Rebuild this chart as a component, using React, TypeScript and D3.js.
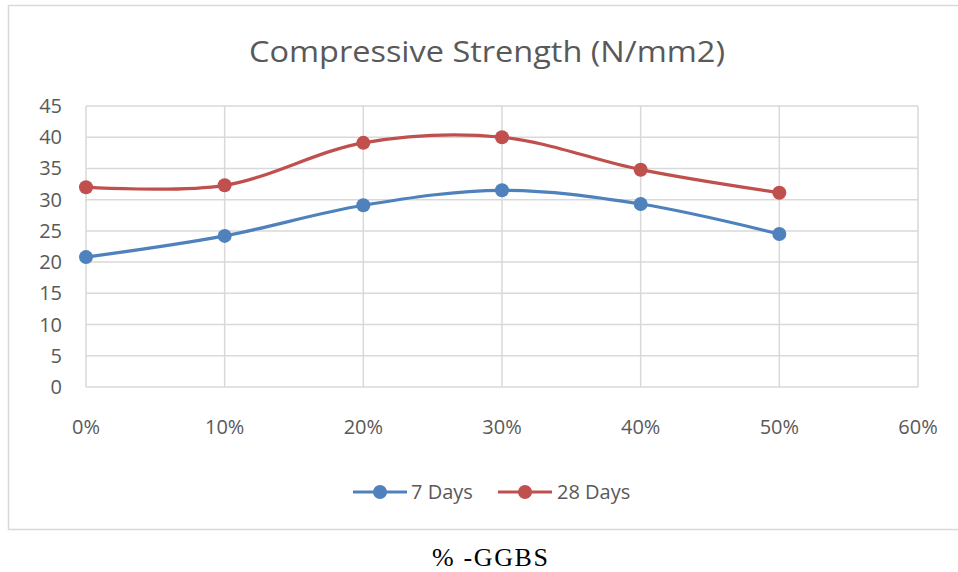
import React from "react";
import * as d3 from "d3";

const categories = [0, 0.1, 0.2, 0.3, 0.4, 0.5];
const xTicks = [0, 0.1, 0.2, 0.3, 0.4, 0.5, 0.6];
const yTicks = [0, 5, 10, 15, 20, 25, 30, 35, 40, 45];
const days7 = [20.8, 24.2, 29.1, 31.5, 29.3, 24.5];
const days28 = [32.0, 32.3, 39.1, 40.0, 34.8, 31.1];
const seriesNames = ["7 Days", "28 Days"];
const colors = ["#4f81bd", "#c0504d"];

export default function App() {
  const W = 958, H = 572;
  const x = d3.scaleLinear().domain([0, 0.6]).range([86, 918]);
  const y = d3.scaleLinear().domain([0, 45]).range([387, 106]);
  const line = d3
    .line<[number, number]>()
    .x((d) => x(d[0]))
    .y((d) => y(d[1]))
    .curve(d3.curveCatmullRom.alpha(0));
  const series = [days7, days28];
  const font = "'Open Sans', sans-serif";
  const legendItems = [
    { x0: 353, tx: 411 },
    { x0: 498, tx: 557 },
  ];
  return (
    <svg
      width={W}
      height={H}
      style={{ position: "absolute", left: 0, top: 0, background: "#fff" }}
    >
      <rect x={8.5} y={5.5} width={960} height={524} fill="#fff" stroke="#d9d9d9" strokeWidth={1.5} />
      <text
        x={487}
        y={62}
        textAnchor="middle"
        fontFamily={font}
        fontSize={29}
        fill="#595959"
        textLength={476}
        lengthAdjust="spacingAndGlyphs"
      >
        Compressive Strength (N/mm2)
      </text>
      {yTicks.map((t) => (
        <line key={"gy" + t} x1={x(0)} x2={x(0.6)} y1={y(t)} y2={y(t)} stroke="#d9d9d9" strokeWidth={1.5} />
      ))}
      {xTicks.map((t) => (
        <line key={"gx" + t} x1={x(t)} x2={x(t)} y1={y(0)} y2={y(45)} stroke="#d9d9d9" strokeWidth={1.5} />
      ))}
      {yTicks.map((t) => (
        <text key={"ty" + t} x={62} y={y(t) + 7} textAnchor="end" fontFamily={font} fontSize={20} fill="#595959">
          {t}
        </text>
      ))}
      {xTicks.map((t) => (
        <text key={"tx" + t} x={x(t)} y={434} textAnchor="middle" fontFamily={font} fontSize={20} fill="#595959">
          {d3.format(".0%")(t)}
        </text>
      ))}
      {series.map((s, i) => {
        const pts = categories.map((c, j) => [c, s[j]] as [number, number]);
        return (
          <g key={"s" + i}>
            <path d={line(pts) || ""} fill="none" stroke={colors[i]} strokeWidth={3.2} strokeLinecap="round" />
            {pts.map((p, j) => (
              <circle key={j} cx={x(p[0])} cy={y(p[1])} r={7} fill={colors[i]} />
            ))}
          </g>
        );
      })}
      {legendItems.map((l, i) => (
        <g key={"l" + i}>
          <line x1={l.x0} x2={l.x0 + 54} y1={492} y2={492} stroke={colors[i]} strokeWidth={3.2} />
          <circle cx={l.x0 + 27} cy={492} r={7} fill={colors[i]} />
          <text x={l.tx} y={499} fontFamily={font} fontSize={20} fill="#595959">
            {seriesNames[i]}
          </text>
        </g>
      ))}
      <text
        x={490}
        y={566}
        textAnchor="middle"
        fontFamily="'Liberation Serif', 'Times New Roman', serif"
        fontSize={26}
        fill="#000"
        textLength={116}
        lengthAdjust="spacing"
      >
        % -GGBS
      </text>
    </svg>
  );
}
